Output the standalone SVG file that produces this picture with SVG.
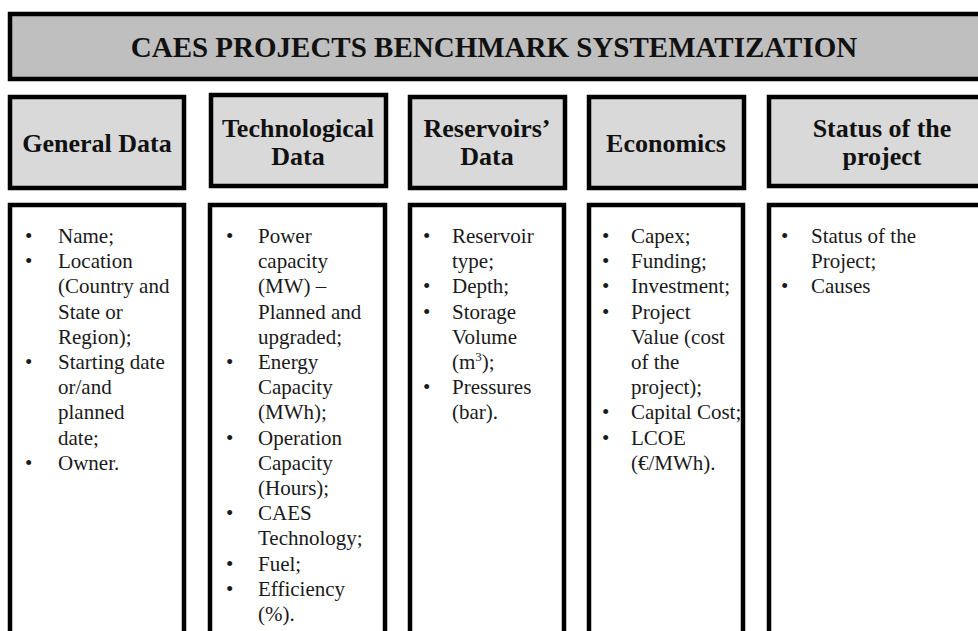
<svg xmlns="http://www.w3.org/2000/svg" width="978" height="631" viewBox="0 0 978 631">
  <style>
    .title { fill: #bfbfbf; stroke: #000; stroke-width: 4.5; }
    .head { fill: #d9d9d9; stroke: #000; stroke-width: 4.5; }
    .body { fill: #fff; stroke: #000; stroke-width: 4.5; }
    .tt { font-family: "Liberation Serif", "Times New Roman", serif; font-weight: bold; font-size: 29px; fill: #111; text-anchor: middle; }
    .ht { font-family: "Liberation Serif", "Times New Roman", serif; font-weight: bold; font-size: 26px; fill: #111; text-anchor: middle; }
    .bt { font-family: "Liberation Serif", "Times New Roman", serif; font-size: 21px; fill: #1a1a1a; }
  </style>
  <rect width="978" height="631" fill="#fff"/>

  <!-- banner -->
  <g id="banner">
    <rect class="title" x="10" y="14" width="980" height="65"/>
    <text class="tt" x="494" y="57">CAES PROJECTS BENCHMARK SYSTEMATIZATION</text>
  </g>

  <!-- column headers -->
  <g id="head-general">
    <rect class="head" x="10" y="97" width="174" height="91"/>
    <text class="ht" x="97" y="152">General Data</text>
  </g>
  <g id="head-tech">
    <rect class="head" x="211" y="95" width="175" height="91"/>
    <text class="ht" x="298" y="137">Technological</text>
    <text class="ht" x="298" y="165">Data</text>
  </g>
  <g id="head-reservoirs">
    <rect class="head" x="410" y="97" width="155" height="91"/>
    <text class="ht" x="487" y="137">Reservoirs’</text>
    <text class="ht" x="487" y="165">Data</text>
  </g>
  <g id="head-economics">
    <rect class="head" x="589" y="97" width="155" height="91"/>
    <text class="ht" x="666" y="152">Economics</text>
  </g>
  <g id="head-status">
    <rect class="head" x="769" y="97" width="230" height="89"/>
    <text class="ht" x="882" y="137">Status of the</text>
    <text class="ht" x="882" y="165">project</text>
  </g>

  <!-- column bodies -->
  <g id="body-general">
    <rect class="body" x="10" y="205" width="174" height="440"/>
    <text class="bt">
      <tspan x="25" y="243">•</tspan><tspan x="58" y="243">Name;</tspan>
      <tspan x="25" y="268.2">•</tspan><tspan x="58" y="268.2">Location</tspan>
      <tspan x="58" y="293.4">(Country and</tspan>
      <tspan x="58" y="318.6">State or</tspan>
      <tspan x="58" y="343.8">Region);</tspan>
      <tspan x="25" y="369">•</tspan><tspan x="58" y="369">Starting date</tspan>
      <tspan x="58" y="394.2">or/and</tspan>
      <tspan x="58" y="419.4">planned</tspan>
      <tspan x="58" y="444.6">date;</tspan>
      <tspan x="25" y="469.8">•</tspan><tspan x="58" y="469.8">Owner.</tspan>
    </text>
  </g>
  <g id="body-tech">
    <rect class="body" x="210" y="205" width="175" height="440"/>
    <text class="bt">
      <tspan x="226" y="243">•</tspan><tspan x="258" y="243">Power</tspan>
      <tspan x="258" y="268.2">capacity</tspan>
      <tspan x="258" y="293.4">(MW) –</tspan>
      <tspan x="258" y="318.6">Planned and</tspan>
      <tspan x="258" y="343.8">upgraded;</tspan>
      <tspan x="226" y="369">•</tspan><tspan x="258" y="369">Energy</tspan>
      <tspan x="258" y="394.2">Capacity</tspan>
      <tspan x="258" y="419.4">(MWh);</tspan>
      <tspan x="226" y="444.6">•</tspan><tspan x="258" y="444.6">Operation</tspan>
      <tspan x="258" y="469.8">Capacity</tspan>
      <tspan x="258" y="495">(Hours);</tspan>
      <tspan x="226" y="520.2">•</tspan><tspan x="258" y="520.2">CAES</tspan>
      <tspan x="258" y="545.4">Technology;</tspan>
      <tspan x="226" y="570.6">•</tspan><tspan x="258" y="570.6">Fuel;</tspan>
      <tspan x="226" y="595.8">•</tspan><tspan x="258" y="595.8">Efficiency</tspan>
      <tspan x="258" y="621">(%).</tspan>
    </text>
  </g>
  <g id="body-reservoirs">
    <rect class="body" x="410" y="205" width="154" height="440"/>
    <text class="bt">
      <tspan x="423" y="243">•</tspan><tspan x="452" y="243">Reservoir</tspan>
      <tspan x="452" y="268.2">type;</tspan>
      <tspan x="423" y="293.4">•</tspan><tspan x="452" y="293.4">Depth;</tspan>
      <tspan x="423" y="318.6">•</tspan><tspan x="452" y="318.6">Storage</tspan>
      <tspan x="452" y="343.8">Volume</tspan>
      <tspan x="452" y="369">(m</tspan><tspan font-size="13" dy="-8">3</tspan><tspan dy="8">);</tspan>
      <tspan x="423" y="394.2">•</tspan><tspan x="452" y="394.2">Pressures</tspan>
      <tspan x="452" y="419.4">(bar).</tspan>
    </text>
  </g>
  <g id="body-economics">
    <rect class="body" x="589" y="205" width="154" height="440"/>
    <text class="bt">
      <tspan x="602" y="243">•</tspan><tspan x="631" y="243">Capex;</tspan>
      <tspan x="602" y="268.2">•</tspan><tspan x="631" y="268.2">Funding;</tspan>
      <tspan x="602" y="293.4">•</tspan><tspan x="631" y="293.4">Investment;</tspan>
      <tspan x="602" y="318.6">•</tspan><tspan x="631" y="318.6">Project</tspan>
      <tspan x="631" y="343.8">Value (cost</tspan>
      <tspan x="631" y="369">of the</tspan>
      <tspan x="631" y="394.2">project);</tspan>
      <tspan x="602" y="419.4">•</tspan><tspan x="631" y="419.4">Capital Cost;</tspan>
      <tspan x="602" y="444.6">•</tspan><tspan x="631" y="444.6">LCOE</tspan>
      <tspan x="631" y="469.8">(€/MWh).</tspan>
    </text>
  </g>
  <g id="body-status">
    <rect class="body" x="769" y="205" width="230" height="440"/>
    <text class="bt">
      <tspan x="781" y="243">•</tspan><tspan x="811" y="243">Status of the</tspan>
      <tspan x="811" y="268.2">Project;</tspan>
      <tspan x="781" y="293.4">•</tspan><tspan x="811" y="293.4">Causes</tspan>
    </text>
  </g>
</svg>
